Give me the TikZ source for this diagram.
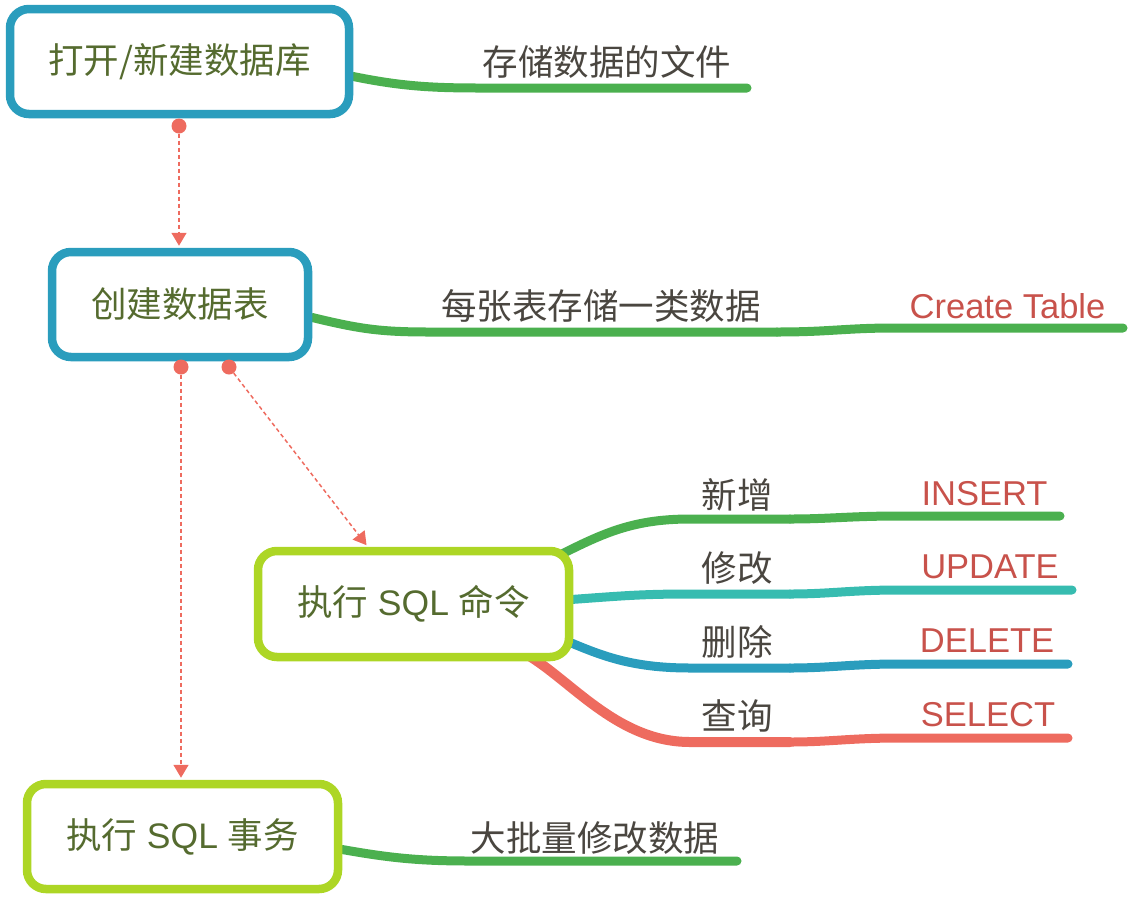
\documentclass[tikz,border=0pt]{standalone}
\usepackage{fontspec}
\setmainfont{Liberation Sans}
\newfontfamily\cjk{Noto Sans CJK SC}
\usetikzlibrary{arrows.meta}
\definecolor{boxblue}{HTML}{2A9DBD}
\definecolor{boxlime}{HTML}{ADD625}
\definecolor{txtolive}{HTML}{556B2F}
\definecolor{txtgray}{HTML}{4A4640}
\definecolor{txtred}{HTML}{C8524B}
\definecolor{lgreen}{HTML}{4BB04F}
\definecolor{lteal}{HTML}{37BCB0}
\definecolor{lblue}{HTML}{2A9DBD}
\definecolor{lred}{HTML}{EE6B5F}
\pgfdeclarelayer{bg}
\pgfsetlayers{bg,main}
\tikzset{
 box/.style={draw, line width=8.5pt, rounded corners=19pt, fill=white, inner sep=0pt, text=txtolive, font=\fontsize{35.5}{40}\selectfont},
 bluebox/.style={box, draw=boxblue},
 limebox/.style={box, draw=boxlime},
 lbl/.style={inner sep=0pt, text=txtgray, font=\cjk\fontsize{35.5}{40}\selectfont},
 sqllbl/.style={inner sep=0pt, text=txtred, font=\fontsize{34.5}{40}\selectfont},
 branch/.style={line width=9pt, line cap=round},
 dot/.style={circle, fill=lred, inner sep=0pt, minimum size=15pt},
 link/.style={draw=lred, line width=1.5pt, dash pattern=on 4pt off 3pt, shorten >=2pt, -{Triangle[width=15pt,length=13pt]}},
}
\begin{document}
\begin{tikzpicture}[x=1pt,y=-1pt]
\useasboundingbox (0,0) rectangle (1130,898);
% boxes
\node[bluebox, minimum width=339pt, minimum height=105pt] (n1) at (179.5,61.5) {\cjk 打开/新建数据库};
\node[bluebox, minimum width=256pt, minimum height=105pt] (n2) at (180,304.5) {\cjk 创建数据表};
\node[limebox, minimum width=311pt, minimum height=106pt] (n3) at (413.5,604) {{\cjk 执行} SQL {\cjk 命令}};
\node[limebox, minimum width=311pt, minimum height=105pt] (n4) at (182.5,836.5) {{\cjk 执行} SQL {\cjk 事务}};
% labels
\node[lbl] (t1) at (607,62) {存储数据的文件};
\node[lbl] (t2) at (601,306) {每张表存储一类数据};
\node[sqllbl] (t2b) at (1007.5,306) {Create Table};
\node[lbl] (t31) at (737,495) {新增};
\node[lbl] (t32) at (737,568) {修改};
\node[lbl] (t33) at (737,642) {删除};
\node[lbl] (t34) at (737,716) {查询};
\node[sqllbl] (s1) at (984.5,493.5) {INSERT};
\node[sqllbl] (s2) at (990,567) {UPDATE};
\node[sqllbl] (s3) at (987,641) {DELETE};
\node[sqllbl] (s4) at (988,715) {SELECT};
\node[lbl] (t4) at (595,838) {大批量修改数据};
% branch end points
\coordinate (e1) at (747,88);
\coordinate (m2) at (777,332);
\coordinate (e2) at (1123,328);
\coordinate (e4) at (737,861);
\coordinate (m31) at (790,519);
\coordinate (e31) at (1060,516);
\coordinate (m32) at (790,594);
\coordinate (e32) at (1072,590);
\coordinate (m33) at (790,668);
\coordinate (e33) at (1068,664);
\coordinate (m34) at (790,742);
\coordinate (e34) at (1068,738);
\begin{pgfonlayer}{bg}
\draw[branch, lgreen] ([yshift=-15pt]n1.east) .. controls (400,86) and (430,88) .. (480,88) -- (e1);
\draw[branch, lgreen] ([yshift=-13pt]n2.east) .. controls (360,329) and (380,332) .. (430,332) -- (m2);
\draw[branch, lgreen] (m2) .. controls (830,332) and (845,328) .. (895,328) -- (e2);
\draw[branch, lgreen] ([yshift=-13pt]n4.east) .. controls (390,858) and (420,861) .. (470,861) -- (e4);
\draw[branch, lgreen] ([xshift=-19pt,yshift=-11pt]n3.north east) .. controls (600,535) and (630,519) .. (690,519) -- (m31);
\draw[branch, lgreen] (m31) .. controls (830,519) and (850,516) .. (900,516) -- (e31);
\draw[branch, lteal] ([xshift=-9pt,yshift=4pt]n3.east) .. controls (620,596) and (640,594) .. (690,594) -- (m32);
\draw[branch, lteal] (m32) .. controls (830,594) and (850,590) .. (900,590) -- (e32);
\draw[branch, lblue] ([xshift=-9pt,yshift=-36pt]n3.east) .. controls (600,655) and (630,668) .. (690,668) -- (m33);
\draw[branch, lblue] (m33) .. controls (830,668) and (850,664) .. (900,664) -- (e33);
\draw[branch, lred, line width=10pt] ([xshift=-42pt,yshift=4pt]n3.south east) .. controls (575,685) and (620,742) .. (690,742) -- (m34);
\draw[branch, lred] (m34) .. controls (830,742) and (850,738) .. (900,738) -- (e34);
\end{pgfonlayer}
% dashed links
\node[dot] (d1) at (179,126) {};
\node[dot] (d2) at (181,367) {};
\node[dot] (d3) at (229,367) {};
\draw[link] (d1) -- (d1 |- n2.north);
\draw[link] (d2) -- (d2 |- n4.north);
\draw[link] (d3) -- ([xshift=114pt]n3.north west);
\end{tikzpicture}
\end{document}
